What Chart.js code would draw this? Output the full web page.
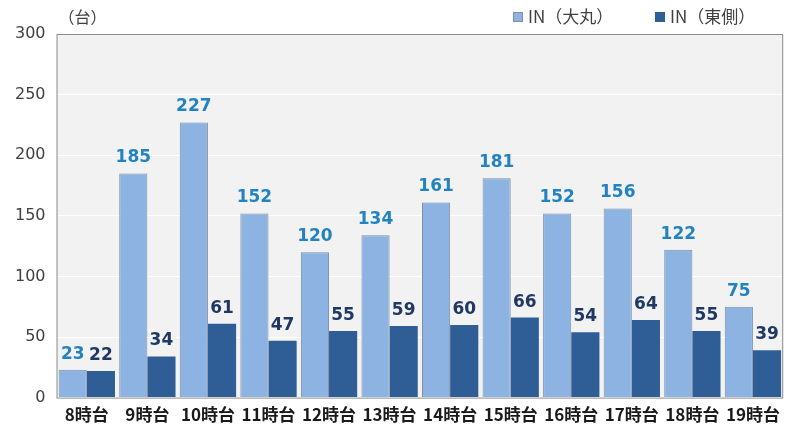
<!DOCTYPE html>
<html lang="ja">
<head>
  <meta charset="UTF-8" />
  <title>時間帯別 入庫台数</title>
  <script src="https://cdn.jsdelivr.net/npm/chart.js"></script>
  <style>
    html, body { margin: 0; padding: 0; background: #fff; }
    .wrap { width: 787px; height: 435px; position: relative; }
  </style>
</head>
<body>
  <div class="wrap">
    <canvas id="hourChart"></canvas>
  </div>

  <script>
    const hours = ['8時台', '9時台', '10時台', '11時台', '12時台', '13時台', '14時台', '15時台', '16時台', '17時台', '18時台', '19時台'];
    const daimaru = [23, 185, 227, 152, 120, 134, 161, 181, 152, 156, 122, 75];
    const higashi = [22, 34, 61, 47, 55, 59, 60, 66, 54, 64, 55, 39];
    const yTicks = [0, 50, 100, 150, 200, 250, 300];

    const jpFont = "'Noto Sans CJK JP', 'Noto Sans', sans-serif";

    // gray plot background + border, unit label
    const plotBg = {
      id: 'plotBg',
      beforeDraw(chart) {
        const { ctx, chartArea: a } = chart;
        ctx.save();
        ctx.fillStyle = '#f2f2f2';
        ctx.fillRect(a.left, a.top, a.right - a.left, a.bottom - a.top);
        ctx.restore();
      },
      afterDatasetsDraw(chart) {
        const { ctx, chartArea: a } = chart;
        ctx.save();
        ctx.strokeStyle = '#8c8c8c';
        ctx.lineWidth = 1;
        ctx.strokeRect(a.left + 0.5, a.top + 0.5, a.right - a.left - 1, a.bottom - a.top);
        ctx.fillStyle = '#404040';
        ctx.font = '16px ' + jpFont;
        ctx.textAlign = 'left';
        ctx.textBaseline = 'middle';
        ctx.fillText('（台）', a.left + 2, 17);
        ctx.restore();
      }
    };

    // legend in the top right corner, drawn from the datasets
    const legendX = [513, 655];
    const topLegend = {
      id: 'topLegend',
      afterDraw(chart) {
        const { ctx } = chart;
        ctx.save();
        ctx.font = '17px ' + jpFont;
        ctx.textBaseline = 'middle';
        ctx.textAlign = 'left';
        chart.data.datasets.forEach((ds, i) => {
          const bx = legendX[i];
          ctx.fillStyle = ds.backgroundColor;
          ctx.fillRect(bx, 12, 10, 10);
          ctx.strokeStyle = ds.borderColor;
          ctx.lineWidth = 1;
          ctx.strokeRect(bx + 0.5, 12.5, 9, 9);
          ctx.fillStyle = '#404040';
          ctx.fillText(ds.label, bx + 15, 17);
        });
        ctx.restore();
      }
    };

    // value labels above each bar
    const valueLabels = {
      id: 'valueLabels',
      afterDatasetsDraw(chart) {
        const { ctx } = chart;
        const colors = ['#2383c0', '#1f3864'];
        ctx.save();
        ctx.font = "bold 17px 'DejaVu Sans', sans-serif";
        ctx.textAlign = 'center';
        ctx.textBaseline = 'bottom';
        chart.data.datasets.forEach((ds, i) => {
          ctx.fillStyle = colors[i];
          chart.getDatasetMeta(i).data.forEach((bar, j) => {
            ctx.fillText(ds.data[j], bar.x, bar.y - 7);
          });
        });
        ctx.restore();
      }
    };

    new Chart(document.getElementById('hourChart'), {
      type: 'bar',
      data: {
        labels: hours,
        datasets: [
          {
            label: 'IN（大丸）',
            data: daimaru,
            backgroundColor: '#8db3e2',
            borderColor: '#7f8fa6',
            borderWidth: 1,
            categoryPercentage: 0.93,
            barPercentage: 1
          },
          {
            label: 'IN（東側）',
            data: higashi,
            backgroundColor: '#2f5d95',
            borderColor: '#2f5d95',
            borderWidth: 0,
            categoryPercentage: 0.93,
            barPercentage: 1
          }
        ]
      },
      options: {
        responsive: true,
        maintainAspectRatio: false,
        animation: false,
        layout: { padding: { left: 4, right: 1, top: 34, bottom: 3 } },
        plugins: {
          legend: { display: false },
          tooltip: { enabled: false }
        },
        scales: {
          x: {
            grid: { display: false, drawTicks: false },
            border: { display: false },
            ticks: {
              color: '#1a1a1a',
              padding: 7,
              maxRotation: 0,
              autoSkip: false,
              font: { size: 17, weight: 'bold', family: jpFont }
            }
          },
          y: {
            min: 0,
            max: 300,
            afterBuildTicks(axis) {
              axis.ticks = yTicks.map(v => ({ value: v }));
            },
            grid: { color: '#ffffff', lineWidth: 1, drawTicks: false },
            border: { display: false },
            ticks: {
              color: '#404040',
              padding: 11,
              font: { size: 16, family: "'DejaVu Sans', sans-serif" }
            }
          }
        }
      },
      plugins: [plotBg, topLegend, valueLabels]
    });
  </script>
</body>
</html>
